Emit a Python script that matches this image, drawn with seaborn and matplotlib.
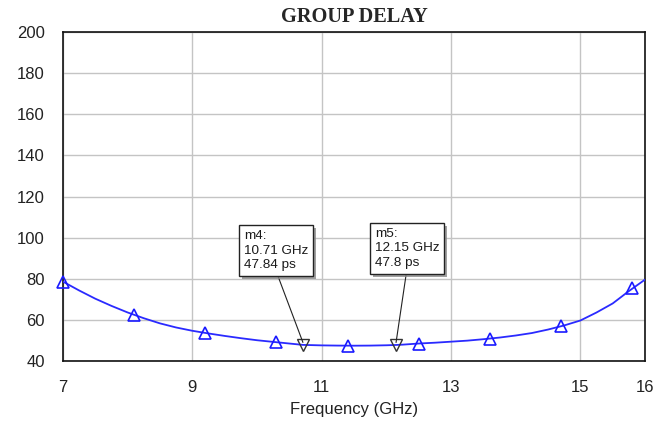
import matplotlib
matplotlib.use("Agg")
import matplotlib.pyplot as plt
import matplotlib.patheffects as pe
import numpy as np
import pandas as pd
import seaborn as sns

# Group delay trace (GHz, ps)
freq = [7.00, 7.25, 7.50, 7.75, 8.00, 8.25, 8.50, 8.75, 9.00, 9.25, 9.50, 9.75,
        10.00, 10.25, 10.50, 10.71, 11.00, 11.25, 11.50, 11.75, 12.00, 12.15,
        12.25, 12.50, 12.75, 13.00, 13.25, 13.50, 13.75, 14.00, 14.25, 14.50,
        14.75, 15.00, 15.25, 15.50, 15.75, 16.00]
delay = [78.6, 74.3, 70.3, 66.8, 63.6, 60.8, 58.3, 56.3, 54.7, 53.4, 52.2, 51.1,
         50.1, 49.3, 48.5, 47.84, 47.6, 47.5, 47.45, 47.5, 47.65, 47.8,
         47.95, 48.5, 48.9, 49.4, 49.9, 50.6, 51.4, 52.4, 53.6, 55.3,
         57.3, 59.7, 63.6, 68.0, 74.0, 79.6]

# Trace symbols along the curve
sym_freq = [7.0, 8.1, 9.2, 10.3, 11.4, 12.5, 13.6, 14.7, 15.8]
sym_delay = [78.6, 62.5, 53.6, 49.1, 47.5, 48.5, 50.8, 56.9, 75.3]

# Markers
mk_names = ["m4", "m5"]
mk_freq = [10.71, 12.15]
mk_delay = [47.84, 47.8]

x_ticks = [7, 9, 11, 13, 15, 16]
y_ticks = [40, 60, 80, 100, 120, 140, 160, 180, 200]

sns.set_theme(style="white")
plt.rcParams["font.family"] = ["Liberation Sans", "DejaVu Sans"]

fig = plt.figure(figsize=(6.65, 4.21), dpi=100)
ax = fig.add_axes([0.0947, 0.1425, 0.8753, 0.7815])

trace = pd.DataFrame({"freq": freq, "delay": delay})
syms = pd.DataFrame({"freq": sym_freq, "delay": sym_delay})
marks = pd.DataFrame({"freq": mk_freq, "delay": mk_delay})

sns.lineplot(data=trace, x="freq", y="delay", ax=ax, color="#2a2aff", lw=1.3,
             zorder=3)
ax.plot(syms["freq"], syms["delay"], linestyle="none", marker="^", ms=8,
        mfc="none", mec="#1a1aff", mew=1.2, zorder=4, clip_on=False)
ax.plot(marks["freq"], marks["delay"], linestyle="none", marker="v", ms=8,
        mfc="none", mec="#333333", mew=1.0, zorder=5)

# Marker readouts
box_pos = [(9.80, 83.6), (11.82, 84.8)]
for name, f, d, (bx, by) in zip(mk_names, mk_freq, mk_delay, box_pos):
    label = f"{name}:\n{f:.2f} GHz\n{d:g} ps"
    ann = ax.annotate(
        label, xy=(f, d + 1.2), xytext=(bx, by), textcoords="data",
        ha="left", va="bottom", fontsize=9.7, linespacing=1.28,
        color="#1a1a1a",
        bbox=dict(boxstyle="square,pad=0.36", fc="white", ec="#222222", lw=1.0),
        arrowprops=dict(arrowstyle="-", color="#222222", lw=0.8,
                        relpos=(0.5, 0.0), shrinkA=0, shrinkB=0),
        zorder=6,
    )
    ann.get_bbox_patch().set_path_effects([
        pe.SimplePatchShadow(offset=(2, -2), shadow_rgbFace="#888888", alpha=0.8),
        pe.Normal(),
    ])

ax.set_xlim(7, 16)
ax.set_ylim(40, 200)
ax.set_xticks(x_ticks)
ax.set_yticks(y_ticks)
ax.set_xticklabels([str(t) for t in x_ticks])
ax.set_yticklabels([str(t) for t in y_ticks])
ax.tick_params(axis="both", length=0, labelsize=12, colors="#222222")
ax.tick_params(axis="x", pad=14)
ax.tick_params(axis="y", pad=13)
ax.grid(True, color="#c4c4c4", lw=1.0)
ax.set_axisbelow(True)
for s in ax.spines.values():
    s.set_visible(True)
    s.set_color("#111111")
    s.set_linewidth(1.2)

ax.set_xlabel("Frequency (GHz)", fontsize=12, color="#222222", labelpad=5)
ax.set_ylabel("")
ax.set_title("GROUP DELAY", fontsize=14.7, fontweight="bold",
             family=["Liberation Serif", "DejaVu Serif"], pad=7)

fig.savefig("out.png", dpi=100, facecolor="white")
